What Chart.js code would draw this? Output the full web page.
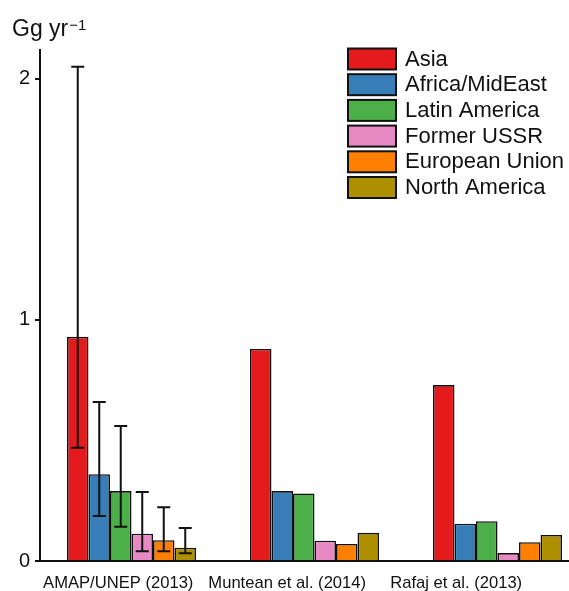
<!DOCTYPE html>
<html>
<head>
<meta charset="utf-8">
<script src="https://cdn.jsdelivr.net/npm/chart.js@4/dist/chart.umd.min.js"></script>
<style>
  html, body { margin: 0; padding: 0; background: #fff; overflow: hidden; }
  canvas { display: block; }
</style>
</head>
<body>
<canvas id="c" width="600" height="591"></canvas>
<script>
// ---- data ----
const categories = ['AMAP/UNEP (2013)', 'Muntean et al. (2014)', 'Rafaj et al. (2013)'];
const regions = ['Asia', 'Africa/MidEast', 'Latin America', 'Former USSR', 'European Union', 'North America'];
const asia   = [0.93, 0.88, 0.73];
const africa = [0.36, 0.29, 0.155];
const latin  = [0.29, 0.28, 0.165];
const ussr   = [0.113, 0.084, 0.033];
const eu     = [0.086, 0.071, 0.078];
const namer  = [0.055, 0.117, 0.108];
// error ranges for the AMAP/UNEP (2013) group, one per region
const amapErrLow  = [0.47, 0.187, 0.142, 0.04, 0.04, 0.032];
const amapErrHigh = [2.05, 0.66, 0.56, 0.286, 0.223, 0.137];
const yTickValues = [0, 1, 2];
const yUnit = 'Gg yr';
const yUnitSup = '\u22121';

const colors = ['#e41a1c', '#377eb8', '#4daf4a', '#e78ac3', '#ff7f00', '#ad8f00'];
const seriesValues = [asia, africa, latin, ussr, eu, namer];
const FONT = "'Liberation Sans', Arial, sans-serif";

const datasets = regions.map((r, i) => ({
  label: r,
  data: seriesValues[i],
  backgroundColor: colors[i],
  borderColor: '#111',
  borderWidth: 1.6,
  categoryPercentage: 0.705,
  barPercentage: 1.0
}));

const extrasPlugin = {
  id: 'extras',
  afterDatasetsDraw(chart) {
    const ctx = chart.ctx;
    const y = chart.scales.y;
    ctx.save();
    ctx.strokeStyle = '#111';
    ctx.lineWidth = 2;
    chart.data.datasets.forEach((ds, i) => {
      const bar = chart.getDatasetMeta(i).data[0];
      const x = bar.x;
      const yl = y.getPixelForValue(amapErrLow[i]);
      const yh = y.getPixelForValue(amapErrHigh[i]);
      const hw = 6.5;
      ctx.beginPath();
      ctx.moveTo(x, yl); ctx.lineTo(x, yh);
      ctx.moveTo(x - hw, yl); ctx.lineTo(x + hw, yl);
      ctx.moveTo(x - hw, yh); ctx.lineTo(x + hw, yh);
      ctx.stroke();
    });
    ctx.restore();
  },
  afterDraw(chart) {
    const ctx = chart.ctx;
    ctx.save();
    // unit label
    ctx.fillStyle = '#111';
    ctx.textBaseline = 'alphabetic';
    ctx.textAlign = 'left';
    ctx.font = '23px ' + FONT;
    ctx.fillText(yUnit, 12, 36);
    const w = ctx.measureText(yUnit).width;
    ctx.font = '15px ' + FONT;
    ctx.fillText(yUnitSup, 12 + w + 1, 30);
    // legend
    ctx.textBaseline = 'middle';
    chart.data.datasets.forEach((ds, i) => {
      const y0 = 48.5 + i * 25.7;
      ctx.fillStyle = ds.backgroundColor;
      ctx.fillRect(348, y0, 48, 21);
      ctx.strokeStyle = '#111';
      ctx.lineWidth = 2;
      ctx.strokeRect(348, y0, 48, 21);
      ctx.fillStyle = '#111';
      ctx.font = '22px ' + FONT;
      ctx.fillText(ds.label, 405, y0 + 11);
    });
    ctx.restore();
  }
};

new Chart(document.getElementById('c'), {
  type: 'bar',
  data: { labels: categories, datasets },
  options: {
    responsive: false,
    animation: false,
    layout: { padding: { top: 50, right: 11, left: 0, bottom: 0 } },
    plugins: { legend: { display: false }, tooltip: { enabled: false } },
    scales: {
      x: {
        type: 'category',
        position: 'bottom',
        weight: 0,
        offset: true,
        grid: { display: false },
        ticks: { display: false },
        border: { display: true, color: '#111', width: 2 },
        afterFit: s => { s.height = 0; }
      },
      x2: {
        type: 'linear',
        position: 'bottom',
        weight: 1,
        offset: false,
        bounds: 'data',
        min: -0.463,
        max: 2.786,
        grid: { display: false, offset: false },
        border: { display: false },
        afterBuildTicks: s => { s.ticks = categories.map((_, i) => ({ value: i })); },
        ticks: {
          autoSkip: false,
          maxRotation: 0,
          minRotation: 0,
          padding: 4,
          color: '#111',
          font: { family: FONT, size: 16.6 },
          callback: v => categories[v]
        },
        afterFit: s => { s.height = 30; }
      },
      y: {
        min: 0,
        max: 2.12,
        afterBuildTicks: s => { s.ticks = yTickValues.map(v => ({ value: v })); },
        grid: { drawOnChartArea: false, drawTicks: true, tickLength: 5, color: '#111', lineWidth: 2 },
        border: { display: true, color: '#111', width: 2 },
        ticks: {
          padding: 5,
          color: '#111',
          font: { family: FONT, size: 20 },
          callback: v => String(v)
        },
        afterFit: s => { s.width = 40; }
      }
    }
  },
  plugins: [extrasPlugin]
});
</script>
</body>
</html>
